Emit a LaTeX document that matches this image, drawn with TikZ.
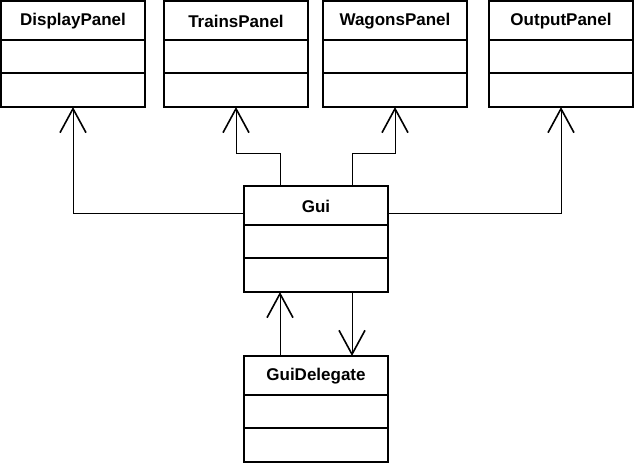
\documentclass[tikz,border=0pt]{standalone}
\usepackage{fontspec}
\setmainfont{Liberation Sans}
\usetikzlibrary{calc,arrows.meta}
\tikzset{
  classbox/.style={draw=black, line width=2pt, minimum width=144pt, minimum height=106pt, inner sep=0pt, outer sep=0pt, fill=white},
  sepline/.style={draw=black, line width=2pt},
  titletext/.style={font=\fontsize{17}{20}\selectfont\bfseries, inner sep=0pt},
  assoc/.style={draw=black, line width=1pt, -{Straight Barb[length=24pt,width=26pt,line width=1.6pt]}},
}
\newcommand{\umlclass}[4]{%
  \node[classbox, anchor=north west] (#1) at (#2,#3) {};
  \node[titletext] (#1-t) at ($(#1.north)+(0,20)$) {#4};
  \draw[sepline] ($(#1.north west)+(0,39)$) -- ($(#1.north east)+(0,39)$);
  \draw[sepline] ($(#1.north west)+(0,72)$) -- ($(#1.north east)+(0,72)$);
}
\begin{document}
\begin{tikzpicture}[x=1pt,y=-1pt]
  \useasboundingbox (0,0) rectangle (635,463);
  \umlclass{dp}{1}{1}{DisplayPanel}
  \umlclass{tp}{164}{1}{TrainsPanel}
  \umlclass{wp}{323}{1}{WagonsPanel}
  \umlclass{op}{489}{1}{OutputPanel}
  \umlclass{gui}{244}{186}{Gui}
  \umlclass{gd}{244}{356}{GuiDelegate}
  % connectors
  \coordinate (guiL) at ($(gui.north west)+(0,27)$);
  \coordinate (guiR) at ($(gui.north east)+(0,27)$);
  \coordinate (guiT1) at ($(gui.north)+(-36,0)$);
  \coordinate (guiT2) at ($(gui.north)+(36,0)$);
  \coordinate (guiB1) at ($(gui.south)+(-36,0)$);
  \coordinate (guiB2) at ($(gui.south)+(36,0)$);
  \coordinate (gdT1) at ($(gd.north)+(-36,0)$);
  \coordinate (gdT2) at ($(gd.north)+(36,0)$);
  \coordinate (tpK) at ($(tp.south)+(0,46)$);
  \coordinate (wpK) at ($(wp.south)+(0,46)$);
  \draw[assoc] (guiL) -| (dp.south);
  \draw[assoc] (guiR) -| (op.south);
  \draw[assoc] (guiT1) |- (tpK) -- (tp.south);
  \draw[assoc] (guiT2) |- (wpK) -- (wp.south);
  \draw[assoc] (gdT1) -- (guiB1);
  \draw[assoc] (guiB2) -- (gdT2);
\end{tikzpicture}
\end{document}
